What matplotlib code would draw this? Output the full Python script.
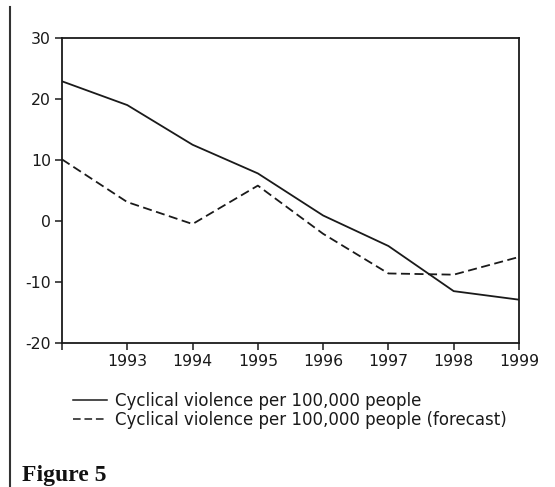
import matplotlib.pyplot as plt
from matplotlib.lines import Line2D

# annual values
years = [1992, 1993, 1994, 1995, 1996, 1997, 1998, 1999]
violence = [22.9, 19.0, 12.5, 7.8, 0.9, -4.1, -11.5, -12.9]
forecast = [10.1, 3.1, -0.5, 5.8, -2.1, -8.6, -8.8, -5.9]
tick_years = [1992, 1993, 1994, 1995, 1996, 1997, 1998, 1999]
tick_labels = ['', '1993', '1994', '1995', '1996', '1997', '1998', '1999']
y_ticks = [-20, -10, 0, 10, 20, 30]
labels = ['Cyclical violence per 100,000 people',
          'Cyclical violence per 100,000 people (forecast)']

plt.rcParams['font.family'] = ['DejaVu Sans']
plt.rcParams['axes.unicode_minus'] = False
ink = '#1a1a1a'

fig = plt.figure(figsize=(5.55, 4.87), dpi=100)
ax = fig.add_axes([0.1117, 0.2957, 0.8234, 0.6263])

ax.plot(years, violence, color=ink, lw=1.3, ls='-')
ax.plot(years, forecast, color=ink, lw=1.3, ls=(0, (5, 2.5)))

ax.set_xlim(1992, 1999)
ax.set_ylim(-20, 30)
ax.set_xticks(tick_years)
ax.set_xticklabels(tick_labels)
ax.set_yticks(y_ticks)
ax.tick_params(direction='out', length=5, width=1.1, colors=ink,
               labelsize=11.3, pad=3)
for s in ax.spines.values():
    s.set_linewidth(1.3)
    s.set_color(ink)

handles = [Line2D([], [], color=ink, lw=1.1, ls='-'),
           Line2D([], [], color=ink, lw=1.1, ls=(0, (5, 2.5)))]
fig.legend(handles, labels, loc='upper left', bbox_to_anchor=(0.1315, 0.195),
           frameon=False, fontsize=12, handlelength=2.04, handletextpad=0.48,
           labelspacing=0.05, borderpad=0, borderaxespad=0, labelcolor=ink)

# page margin line and caption
fig.add_artist(Line2D([0.018, 0.018], [0.0, 0.985], color='#333333', lw=1.5))
fig.text(0.04, 0.012, 'Figure 5', fontsize=17, fontweight='bold',
         family='Liberation Serif', color='#111111')

fig.savefig('out.png', dpi=100)
